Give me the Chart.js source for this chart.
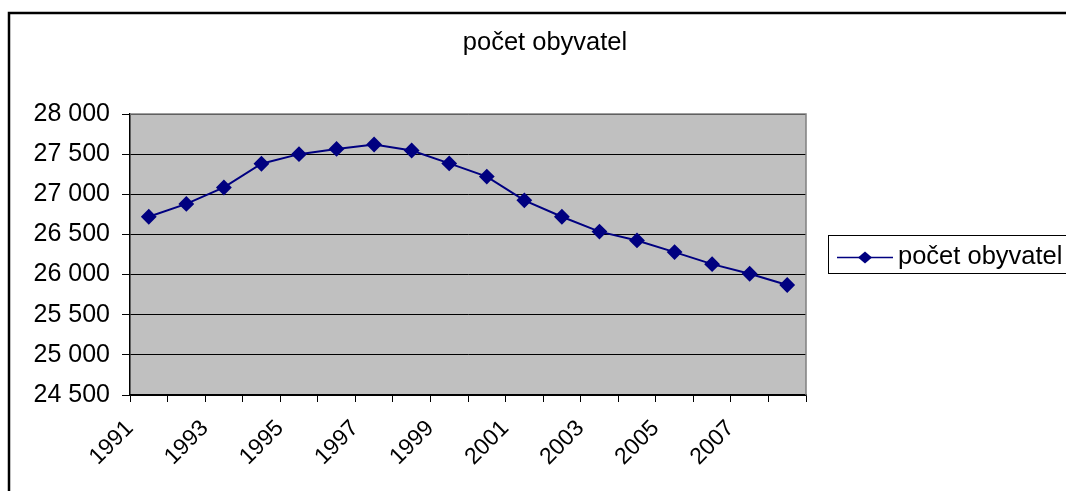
<!DOCTYPE html>
<html>
<head>
<meta charset="utf-8">
<script src="https://cdn.jsdelivr.net/npm/chart.js@4"></script>
<style>
  html, body { margin: 0; padding: 0; background: #fff; }
  #wrap { width: 1066px; height: 491px; }
</style>
</head>
<body>
<div id="wrap"><canvas id="myChart" width="1066" height="491"></canvas></div>
<script>
const years = ["1991", "1992", "1993", "1994", "1995", "1996", "1997", "1998", "1999",
	"2000", "2001", "2002", "2003", "2004", "2005", "2006", "2007", "2008"];
const population = [26720, 26880, 27085, 27380, 27500, 27565, 27620, 27545, 27385,
	27220, 26925, 26720, 26535, 26425, 26280, 26130, 26010, 25870];
const seriesName = "počet obyvatel";
const chartTitle = "počet obyvatel";
const yMin = 24500;
const yMax = 28000;
const yStep = 500;

const fontFamily = "'Liberation Sans', Arial, sans-serif";

// thousands with a space, like the excel original: 27 500
function formatNumber(v) {
	return String(v).replace(/\B(?=(\d{3})+(?!\d))/g, " ");
}

// grey plot area + outer frame + title + legend box
const excelLook = {
	id: "excelLook",
	beforeDraw(chart) {
		const { ctx, chartArea } = chart;
		ctx.save();
		ctx.fillStyle = "#ffffff";
		ctx.fillRect(0, 0, chart.width, chart.height);
		ctx.fillStyle = "#c0c0c0";
		ctx.fillRect(chartArea.left, chartArea.top,
			chartArea.right - chartArea.left, chartArea.bottom - chartArea.top);
		// outer frame, clipped on the right and bottom
		ctx.strokeStyle = "#000";
		ctx.lineWidth = 2.5;
		ctx.beginPath();
		ctx.moveTo(9, chart.height + 5);
		ctx.lineTo(9, 13);
		ctx.lineTo(chart.width + 5, 13);
		ctx.stroke();
		ctx.restore();
	},
	afterDraw(chart) {
		const { ctx, chartArea } = chart;
		const ds = chart.data.datasets[0];
		ctx.save();
		// plot border top/right grey
		ctx.strokeStyle = "#808080";
		ctx.lineWidth = 1.5;
		ctx.beginPath();
		ctx.moveTo(chartArea.left, chartArea.top);
		ctx.lineTo(chartArea.right, chartArea.top);
		ctx.lineTo(chartArea.right, chartArea.bottom);
		ctx.stroke();

		// title
		ctx.fillStyle = "#000";
		ctx.font = "25.5px " + fontFamily;
		ctx.textAlign = "center";
		ctx.textBaseline = "middle";
		ctx.fillText(chartTitle, 545, 43);

		// legend
		ctx.strokeStyle = "#000";
		ctx.lineWidth = 1;
		ctx.strokeRect(828.5, 235.5, 250, 38);
		ctx.strokeStyle = ds.borderColor;
		ctx.lineWidth = 1.5;
		ctx.beginPath();
		ctx.moveTo(837, 257.5);
		ctx.lineTo(893, 257.5);
		ctx.stroke();
		ctx.fillStyle = ds.borderColor;
		ctx.beginPath();
		ctx.moveTo(865, 251.5);
		ctx.lineTo(872, 257.5);
		ctx.lineTo(865, 263.5);
		ctx.lineTo(858, 257.5);
		ctx.closePath();
		ctx.fill();
		ctx.fillStyle = "#000";
		ctx.textAlign = "left";
		ctx.fillText(ds.label, 898, 257);
		ctx.restore();
	},
};

const ctx = document.getElementById("myChart").getContext("2d");
const myChart = new Chart(ctx, {
	type: "line",
	data: {
		labels: years,
		datasets: [
			{
				label: seriesName,
				data: population,
				borderColor: "#000080",
				backgroundColor: "#000080",
				borderWidth: 2,
				pointStyle: "rectRot",
				pointRadius: 6.5,
				pointHoverRadius: 6.5,
				tension: 0,
			},
		],
	},
	options: {
		responsive: false,
		animation: false,
		layout: {
			padding: { left: 8, top: 114, right: 260, bottom: 0 },
		},
		plugins: {
			legend: { display: false },
			title: { display: false },
			tooltip: { enabled: false },
		},
		scales: {
			x: {
				offset: true,
				grid: {
					offset: true,
					drawOnChartArea: false,
					drawTicks: true,
					tickLength: 7,
					tickColor: "#000",
				},
				border: { color: "#000", width: 1.5 },
				ticks: {
					autoSkip: false,
					maxRotation: 45,
					minRotation: 45,
					labelOffset: -19,
					padding: 13,
					color: "#000",
					font: { size: 23, family: fontFamily },
					callback: function (value, index) {
						return index % 2 === 0 ? this.getLabelForValue(value) : "";
					},
				},
				afterFit(scale) {
					scale.height = 96;
				},
			},
			y: {
				min: yMin,
				max: yMax,
				grid: {
					color: "#000",
					lineWidth: 1,
					tickLength: 8,
					tickColor: "#000",
				},
				border: { color: "#000", width: 1.5 },
				ticks: {
					stepSize: yStep,
					padding: 12,
					color: "#000",
					font: { size: 25, family: fontFamily },
					callback: (v) => formatNumber(v),
				},
				afterFit(scale) {
					scale.width = 122;
				},
			},
		},
	},
	plugins: [excelLook],
});
</script>
</body>
</html>
